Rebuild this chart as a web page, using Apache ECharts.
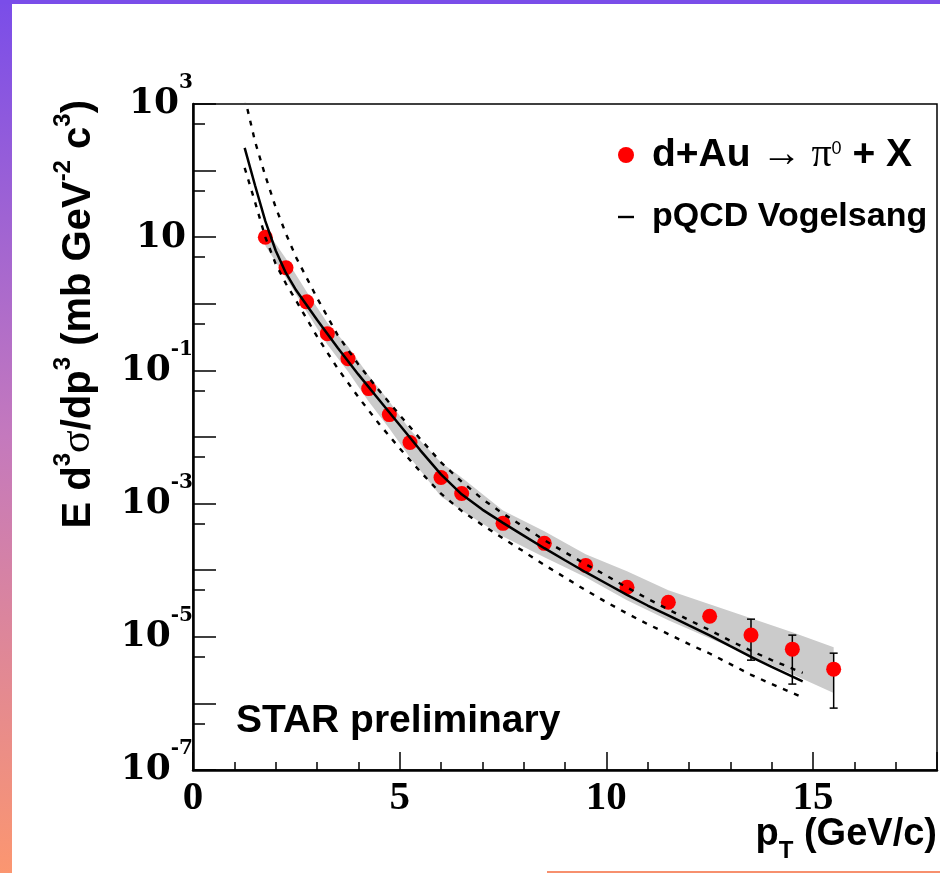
<!DOCTYPE html>
<html><head><meta charset="utf-8">
<script src="https://cdn.jsdelivr.net/npm/echarts@6/dist/echarts.min.js"></script>
<style>html,body{margin:0;padding:0;background:#fff}#main{width:940px;height:873px}</style>
</head><body><div id="main"></div><script>
// ---- data ----
const ptData = [1.75, 2.25, 2.75, 3.25, 3.75, 4.25, 4.75, 5.25, 6.0, 6.5, 7.5, 8.5, 9.5, 10.5, 11.5, 12.5, 13.5, 14.5, 15.5];
const yieldData = [10.0, 3.48, 1.07, 0.356, 0.150, 0.0533, 0.0217, 0.00828, 0.00247, 0.00142, 5.05e-4, 2.53e-4, 1.18e-4, 5.55e-5, 3.30e-5, 2.04e-5, 1.06e-5, 6.52e-6, 3.27e-6];
const sysHigh = [13.4, 4.74, 1.52, 0.521, 0.228, 0.0836, 0.0340, 0.0129, 0.00415, 0.00247, 7.91e-4, 3.83e-4, 1.73e-4, 9.64e-5, 5.00e-5, 3.08e-5, 1.90e-5, 1.17e-5, 6.98e-6];
const sysLow = [7.43, 2.46, 0.762, 0.244, 0.0959, 0.0340, 0.0134, 0.00493, 0.00128, 7.91e-4, 3.22e-4, 1.56e-4, 7.83e-5, 3.54e-5, 1.77e-5, 9.52e-6, 5.12e-6, 2.75e-6, 1.43e-6];
const errPt = [13.5, 14.5, 15.5];
const errHigh = [1.84e-5, 1.06e-5, 5.68e-6];
const errLow = [4.46e-6, 1.95e-6, 8.5e-7];

const theoryPt = [1.25, 1.5, 1.75, 2.0, 2.25, 2.5, 3.0, 3.5, 4.0, 4.5, 5.0, 5.5, 6.0, 6.5, 7.0, 7.5, 8.0, 8.5, 9.0, 9.5, 10.0, 10.5, 11.0, 11.5, 12.0, 12.5, 13.0, 13.5, 14.0, 14.75];
const theoryCentral = [219, 60.3, 17.4, 6.31, 2.88, 1.58, 0.575, 0.219, 0.0871, 0.0363, 0.0151, 0.00631, 0.00275, 0.00138, 8.13e-4, 5.13e-4, 3.31e-4, 2.14e-4, 1.41e-4, 9.33e-5, 6.31e-5, 4.27e-5, 2.95e-5, 2.09e-5, 1.48e-5, 1.05e-5, 7.24e-6, 5.01e-6, 3.55e-6, 2.14e-6];
const theoryUpper = [1259, 275, 83.2, 28.2, 11.2, 4.90, 1.23, 0.339, 0.123, 0.0501, 0.0214, 0.00933, 0.00417, 0.00214, 0.00117, 7.08e-4, 4.47e-4, 2.82e-4, 1.86e-4, 1.23e-4, 8.32e-5, 5.50e-5, 3.72e-5, 2.57e-5, 1.78e-5, 1.26e-5, 8.71e-6, 6.17e-6, 4.47e-6, 2.88e-6];
const theoryLower = [110, 33.9, 10.0, 3.98, 2.00, 1.10, 0.324, 0.107, 0.0398, 0.0158, 0.00676, 0.00302, 0.00141, 7.76e-4, 4.79e-4, 3.02e-4, 1.91e-4, 1.20e-4, 7.76e-5, 5.01e-5, 3.31e-5, 2.24e-5, 1.55e-5, 1.10e-5, 7.76e-6, 5.62e-6, 3.89e-6, 2.69e-6, 1.95e-6, 1.23e-6];

const xTickLabels = [0, 5, 10, 15];
const yLabelExponents = [-7, -5, -3, -1, 1, 3];

// ---- build ----
const zip = (xs, ys) => xs.map((x, i) => [x, ys[i]]);
const chart = echarts.init(document.getElementById('main'), null, {renderer: 'canvas'});

const serif = 'Liberation Serif';
const sans = 'Liberation Sans';

const option = {
  backgroundColor: '#ffffff',
  animation: false,
  title: {
    text: 'STAR preliminary', left: 236, top: 702, padding: 0,
    textStyle: {fontFamily: sans, fontWeight: 'bold', fontSize: 39, color: '#000'}
  },
  legend: {
    orient: 'vertical', left: 618, top: 135, padding: 0, itemGap: 25,
    itemWidth: 16, itemHeight: 16, align: 'left',
    data: [{name: 'dAu', icon: 'circle'}, {name: 'pQCD', icon: 'path://M0,0H20V3H0Z'}],
    formatter: (name) => name === 'dAu'
      ? '{g| }{b|d+Au }{a|\u2192}{p| \u03c0}{s|0}{b| + X}'
      : '{g| }{c|pQCD Vogelsang}',
    textStyle: {
      color: '#000',
      rich: {
        g: {width: 13},
        b: {fontFamily: sans, fontWeight: 'bold', fontSize: 39, lineHeight: 40, color: '#000'},
        a: {fontFamily: serif, fontSize: 40, lineHeight: 40, color: '#000'},
        p: {fontFamily: serif, fontSize: 40, lineHeight: 40, color: '#000'},
        s: {fontFamily: sans, fontSize: 18, lineHeight: 18, padding: [0, 0, 12, 0], color: '#000'},
        c: {fontFamily: sans, fontWeight: 'bold', fontSize: 34, lineHeight: 40, color: '#000'}
      }
    }
  },
  grid: {left: 193, right: 3, top: 104, bottom: 103, containLabel: false, outerBoundsMode: 'none',
         show: true, borderColor: '#000', borderWidth: 1.5, backgroundColor: 'transparent'},
  xAxis: [
    {
      type: 'value', min: 0, max: 18, interval: 5, position: 'bottom',
      axisLine: {lineStyle: {color: '#000', width: 2.5}},
      axisTick: {inside: true, length: 18, lineStyle: {color: '#000', width: 1.5}},
      axisLabel: {
        color: '#000', fontFamily: serif, fontWeight: 'bold', fontSize: 41, margin: 8,
        formatter: (v) => xTickLabels.includes(v) ? String(v) : ''
      },
      splitLine: {show: false},
      name: '{b|p}{t|T}{b| (GeV/c)}', nameLocation: 'end', nameGap: 0, nameMoveOverlap: false,
      nameTextStyle: {
        align: 'right', verticalAlign: 'top', padding: [46, 0, 0, 0],
        rich: {
          b: {fontFamily: sans, fontWeight: 'bold', fontSize: 38, lineHeight: 40, verticalAlign: 'top', color: '#000'},
          t: {fontFamily: sans, fontWeight: 'bold', fontSize: 24, lineHeight: 24, verticalAlign: 'top', padding: [23, 0, 0, 0], color: '#000'}
        }
      }
    },
    {
      type: 'value', min: 0, max: 18, interval: 1, position: 'bottom',
      axisLine: {show: false},
      axisTick: {inside: true, length: 8, lineStyle: {color: '#000', width: 1.5}},
      axisLabel: {show: false}, splitLine: {show: false}
    }
  ],
  yAxis: [
    {
      type: 'log', logBase: 10, min: 1.0001e-7, max: 1e3, splitNumber: 8, position: 'left',
      axisLine: {lineStyle: {color: '#000', width: 2.5}},
      axisTick: {inside: true, length: 23, lineStyle: {color: '#000', width: 1.5}},
      axisLabel: {
        margin: 0, showMinLabel: true, showMaxLabel: true, padding: [0, 0, 13, 0],
        formatter: (v) => {
          const e = Math.round(Math.log10(v));
          if (!yLabelExponents.includes(e)) return '';
          return e === 1 ? '{b|10}{s| }' : '{b|10}{s|' + e + '}';
        },
        rich: {
          b: {fontFamily: 'DejaVu Serif', fontWeight: 'bold', fontSize: 36, verticalAlign: 'bottom', color: '#000'},
          s: {fontFamily: 'DejaVu Serif', fontWeight: 'bold', fontSize: 20, verticalAlign: 'top', padding: [0, 0, 29, 0], color: '#000'}
        }
      },
      splitLine: {show: false}
    },
    {
      type: 'log', logBase: 10, min: 2.0001e-7, max: 2e3, splitNumber: 8, position: 'left',
      axisLine: {show: false},
      axisTick: {inside: true, length: 12, lineStyle: {color: '#000', width: 1.5}},
      axisLabel: {show: false}, splitLine: {show: false}
    },
    {
      type: 'value', position: 'left', offset: 118,
      axisLine: {show: false}, axisTick: {show: false}, axisLabel: {show: false}, splitLine: {show: false},
      name: '{b|E d}{s|3}{g|\u03c3}{b|/dp}{s|3}{b| (mb GeV}{s|-2}{b| c}{s|3}{b|)}',
      nameLocation: 'end', nameRotate: 90, nameGap: 4, nameMoveOverlap: false,
      nameTextStyle: {
        align: 'right', verticalAlign: 'middle',
        rich: {
          b: {fontFamily: sans, fontWeight: 'bold', fontSize: 40, verticalAlign: 'bottom', color: '#000'},
          g: {fontFamily: serif, fontSize: 42, verticalAlign: 'bottom', color: '#000'},
          s: {fontFamily: sans, fontWeight: 'bold', fontSize: 24, verticalAlign: 'top', padding: [0, 0, 24, 0], color: '#000'}
        }
      }
    }
  ],
  series: [
    {
      name: 'sys', type: 'custom', xAxisIndex: 0, yAxisIndex: 0, clip: true, silent: true, z: 1,
      data: [[ptData[0], yieldData[0]]],
      renderItem: (params, api) => {
        const pts = [];
        for (let i = 0; i < ptData.length; i++) pts.push(api.coord([ptData[i], sysHigh[i]]));
        for (let i = ptData.length - 1; i >= 0; i--) pts.push(api.coord([ptData[i], sysLow[i]]));
        return {type: 'polygon', shape: {points: pts}, style: {fill: '#cbcbcb'}};
      }
    },
    {
      name: 'err', type: 'custom', xAxisIndex: 0, yAxisIndex: 0, clip: true, silent: true, z: 2,
      data: errPt.map((x, i) => [x, errLow[i], errHigh[i]]),
      encode: {x: 0, y: [1, 2]},
      renderItem: (params, api) => {
        const x = api.value(0);
        const pLo = api.coord([x, api.value(1)]);
        const pHi = api.coord([x, api.value(2)]);
        const w = 4;
        const st = {stroke: '#000', lineWidth: 1.5};
        return {type: 'group', children: [
          {type: 'line', shape: {x1: pLo[0], y1: pLo[1], x2: pHi[0], y2: pHi[1]}, style: st},
          {type: 'line', shape: {x1: pLo[0] - w, y1: pLo[1], x2: pLo[0] + w, y2: pLo[1]}, style: st},
          {type: 'line', shape: {x1: pHi[0] - w, y1: pHi[1], x2: pHi[0] + w, y2: pHi[1]}, style: st}
        ]};
      }
    },
    {
      name: 'dAu', type: 'scatter', xAxisIndex: 0, yAxisIndex: 0, z: 3,
      data: zip(ptData, yieldData), symbol: 'circle', symbolSize: 15,
      itemStyle: {color: '#ff0000', opacity: 1}
    },
    {
      name: 'pQCD', type: 'line', xAxisIndex: 0, yAxisIndex: 0, z: 4, color: '#000',
      data: zip(theoryPt, theoryCentral), showSymbol: false, symbol: 'none',
      lineStyle: {color: '#000', width: 2.5}
    },
    {
      name: 'pQCD upper', type: 'line', xAxisIndex: 0, yAxisIndex: 0, z: 4,
      data: zip(theoryPt, theoryUpper), showSymbol: false, symbol: 'none',
      lineStyle: {color: '#000', width: 2.4, type: [5, 7]}
    },
    {
      name: 'pQCD lower', type: 'line', xAxisIndex: 0, yAxisIndex: 0, z: 4,
      data: zip(theoryPt, theoryLower), showSymbol: false, symbol: 'none',
      lineStyle: {color: '#000', width: 2.4, type: [5, 7]}
    }
  ],
  graphic: [
    {type: 'rect', left: 0, top: 0, z: 100, shape: {width: 12, height: 873},
     style: {fill: {type: 'linear', x: 0, y: 0, x2: 0, y2: 1, colorStops: [{offset: 0, color: '#7a4de9'}, {offset: 0.5, color: '#c479bd'}, {offset: 1, color: '#fb9670'}]}}},
    {type: 'rect', left: 0, top: 0, z: 100, shape: {width: 940, height: 4}, style: {fill: '#7a4de9'}},
    {type: 'rect', left: 547, top: 871, z: 100, shape: {width: 393, height: 2}, style: {fill: '#f7906e'}}
  ]
};
chart.setOption(option);
</script></body></html>
